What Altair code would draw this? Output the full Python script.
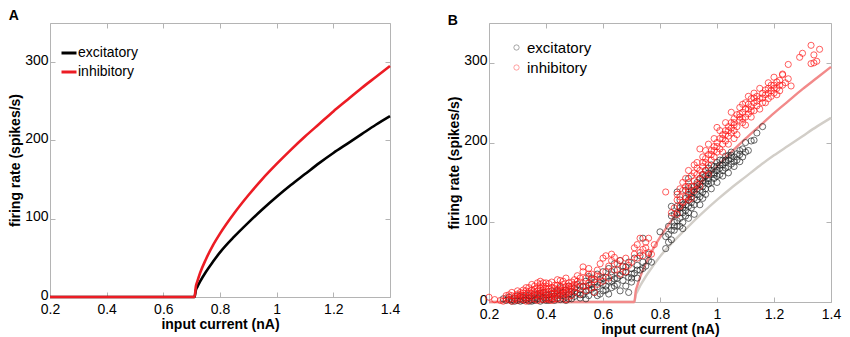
import altair as alt
import pandas as pd

# ---------------- data ----------------
curve_x = [0.2, 0.7, 0.71, 0.715, 0.72, 0.73, 0.75, 0.775, 0.8, 0.85, 0.9, 0.95,
           1.0, 1.05, 1.1, 1.15, 1.2, 1.25, 1.3, 1.35, 1.4]
exc_rate = [0, 0, 0, 9, 13, 20, 32, 45, 57, 77, 95, 112,
            128, 143, 157, 171, 184, 196, 208, 220, 231]
inh_rate = [0, 0, 0, 14, 20, 31, 48, 66, 81, 107, 130, 151,
            170, 188, 205, 221, 237, 252, 267, 281, 295]

exc_points = [
    (0.25, 4), (0.26, 2), (0.27, 6), (0.28, 1), (0.28, 3), (0.29, 5), (0.30, 2), (0.30, 8),
    (0.31, 1), (0.31, 4), (0.32, 6), (0.32, 2), (0.33, 3), (0.33, 9), (0.34, 1), (0.34, 5),
    (0.35, 7), (0.35, 3), (0.36, 2), (0.36, 10), (0.37, 4), (0.37, 6), (0.38, 1), (0.38, 8),
    (0.39, 3), (0.39, 12), (0.40, 5), (0.40, 2), (0.41, 9), (0.41, 6), (0.42, 4), (0.42, 14),
    (0.43, 7), (0.43, 2), (0.44, 10), (0.44, 5), (0.45, 18), (0.45, 3), (0.46, 8), (0.46, 12),
    (0.47, 6), (0.47, 15), (0.48, 4), (0.48, 20), (0.49, 9), (0.49, 13), (0.50, 7), (0.50, 17),
    (0.27, 3), (0.29, 1), (0.31, 7), (0.33, 5), (0.35, 1), (0.37, 9), (0.39, 6), (0.41, 2),
    (0.43, 12), (0.45, 8), (0.47, 2), (0.49, 4), (0.52, 9), (0.54, 4), (0.56, 22), (0.58, 8),
    (0.60, 14), (0.62, 10), (0.64, 20), (0.66, 14), (0.68, 44), (0.70, 30), (0.55, 32), (0.60, 30),
    (0.63, 26),
    (0.34, 8), (0.36, 5), (0.38, 11), (0.40, 9), (0.42, 10), (0.44, 14), (0.46, 4), (0.48, 10),
    (0.50, 12), (0.52, 20), (0.55, 15), (0.57, 18), (0.59, 24), (0.61, 20), (0.63, 38), (0.65, 30),
    (0.67, 38), (0.70, 35), (0.72, 40), (0.74, 42),
    (0.51, 11), (0.51, 22), (0.52, 5), (0.52, 15), (0.53, 19), (0.53, 9), (0.54, 26), (0.54, 13),
    (0.55, 8), (0.55, 21), (0.56, 30), (0.56, 16), (0.57, 12), (0.57, 25), (0.58, 35), (0.58, 19),
    (0.59, 10), (0.59, 28), (0.60, 22), (0.60, 38), (0.61, 15), (0.61, 31), (0.62, 26), (0.62, 42),
    (0.63, 18), (0.63, 34), (0.64, 48), (0.64, 29), (0.65, 22), (0.65, 40), (0.66, 33), (0.66, 52),
    (0.67, 27), (0.67, 45), (0.68, 37), (0.68, 20), (0.69, 50), (0.69, 31), (0.69, 12), (0.70, 42),
    (0.70, 25), (0.71, 55), (0.71, 36), (0.72, 46), (0.72, 30), (0.73, 58), (0.73, 40), (0.74, 80),
    (0.74, 50), (0.75, 45), (0.76, 52), (0.76, 60), (0.77, 50),
    (0.80, 88), (0.82, 67), (0.82, 82), (0.83, 75), (0.83, 95), (0.84, 78), (0.84, 108), (0.84, 120),
    (0.85, 90), (0.85, 100), (0.86, 138), (0.86, 112), (0.86, 95), (0.87, 105), (0.87, 118), (0.87, 128),
    (0.88, 100), (0.88, 112), (0.88, 122), (0.89, 115), (0.89, 130), (0.89, 108), (0.90, 155), (0.90, 120),
    (0.90, 135), (0.90, 112), (0.91, 125), (0.91, 140), (0.91, 118), (0.92, 130), (0.92, 145), (0.92, 122),
    (0.93, 135), (0.93, 150), (0.93, 128), (0.94, 140), (0.94, 132), (0.94, 155), (0.95, 145), (0.95, 138),
    (0.95, 160), (0.96, 150), (0.96, 142), (0.96, 165), (0.97, 155), (0.97, 148), (0.97, 168), (0.98, 160),
    (0.98, 150), (0.98, 172), (0.99, 162), (0.99, 155), (1.00, 165), (1.00, 158), (1.00, 175), (1.01, 168),
    (1.01, 160), (1.02, 172), (1.02, 165), (1.03, 175), (1.03, 168), (1.04, 178), (1.04, 170), (1.05, 180),
    (1.05, 173), (1.06, 182), (1.07, 178), (1.07, 186), (1.08, 185), (1.09, 182), (1.10, 188), (1.10, 200),
    (1.12, 202), (1.13, 203), (1.14, 212), (1.16, 220),
    (0.86, 102), (0.88, 92), (0.89, 140), (0.91, 132), (0.92, 110), (0.93, 142), (0.94, 122), (0.95, 152),
    (0.96, 135), (0.97, 162), (0.98, 142), (0.99, 170), (1.00, 150), (1.01, 178), (1.02, 158), (1.03, 183),
    (1.04, 162), (1.05, 188), (1.06, 170), (1.08, 176), (1.09, 192), (1.11, 190), (0.87, 95), (0.90, 145),
    (0.85, 110), (0.83, 85), (0.95, 130),
    (0.88, 118), (0.90, 128), (0.92, 138), (0.94, 148), (0.96, 158), (0.98, 165), (1.00, 170), (1.02, 178),
    (1.04, 184), (1.06, 176), (1.08, 190), (0.89, 122), (0.91, 136), (0.93, 146), (0.95, 156), (0.97, 152),
    (0.99, 160), (1.01, 172), (1.03, 178), (1.05, 184), (0.87, 112), (0.85, 95), (0.84, 90), (0.86, 120),
    (0.90, 105),
]

inh_points = [
    (0.20, 6), (0.22, 3), (0.24, 2), (0.26, 5), (0.27, 3), (0.28, 8), (0.28, 1), (0.29, 4),
    (0.30, 10), (0.30, 2), (0.31, 6), (0.31, 12), (0.32, 3), (0.32, 8), (0.33, 14), (0.33, 5),
    (0.34, 2), (0.34, 10), (0.35, 7), (0.35, 22), (0.35, 15), (0.36, 4), (0.36, 12), (0.37, 9),
    (0.37, 18), (0.38, 6), (0.38, 14), (0.38, 22), (0.39, 3), (0.39, 11), (0.40, 8), (0.40, 16),
    (0.40, 20), (0.41, 5), (0.41, 13), (0.42, 10), (0.42, 25), (0.43, 7), (0.43, 17), (0.44, 12),
    (0.44, 21), (0.45, 9), (0.45, 27), (0.46, 14), (0.46, 6), (0.47, 19), (0.47, 11), (0.48, 24),
    (0.48, 16), (0.49, 8), (0.49, 20), (0.50, 13), (0.50, 28),
    (0.29, 7), (0.31, 9), (0.33, 1), (0.34, 6), (0.36, 8), (0.37, 2), (0.38, 10), (0.39, 7),
    (0.40, 12), (0.41, 3), (0.42, 6), (0.43, 11), (0.44, 4), (0.45, 15), (0.46, 10), (0.47, 3),
    (0.48, 12), (0.49, 16), (0.36, 16), (0.39, 19), (0.42, 18), (0.44, 16), (0.46, 22), (0.32, 15),
    (0.30, 5), (0.27, 9), (0.25, 1), (0.41, 23), (0.47, 30), (0.53, 44),
    (0.26, 8), (0.28, 12), (0.30, 14), (0.32, 11), (0.33, 18), (0.34, 13), (0.35, 11), (0.36, 20),
    (0.37, 14), (0.37, 24), (0.38, 17), (0.39, 15), (0.39, 24), (0.40, 4), (0.41, 17), (0.42, 14),
    (0.42, 2), (0.43, 21), (0.43, 4), (0.44, 8), (0.45, 20), (0.45, 12), (0.46, 18), (0.46, 26),
    (0.47, 15), (0.48, 20), (0.48, 7), (0.49, 25), (0.50, 18), (0.50, 22), (0.51, 26), (0.52, 30),
    (0.54, 20), (0.55, 35), (0.56, 28), (0.58, 32), (0.44, 28), (0.40, 24), (0.38, 26), (0.34, 18),
    (0.51, 18), (0.51, 33), (0.52, 10), (0.52, 25), (0.53, 38), (0.53, 20), (0.54, 14), (0.54, 30),
    (0.55, 24), (0.55, 42), (0.56, 18), (0.56, 35), (0.57, 28), (0.57, 12), (0.58, 40), (0.58, 22),
    (0.59, 32), (0.59, 48), (0.60, 26), (0.60, 55), (0.61, 38), (0.61, 58), (0.62, 45), (0.62, 30),
    (0.63, 52), (0.63, 60), (0.64, 40), (0.64, 56), (0.65, 48), (0.66, 35), (0.66, 52), (0.67, 44),
    (0.68, 38), (0.68, 55), (0.69, 46), (0.70, 50), (0.71, 60), (0.71, 68), (0.72, 55), (0.72, 72),
    (0.73, 62), (0.73, 80), (0.74, 66), (0.74, 58), (0.75, 75), (0.75, 68), (0.76, 80), (0.76, 62),
    (0.77, 60), (0.78, 72),
    (0.82, 138), (0.84, 112), (0.85, 118), (0.86, 128), (0.86, 110), (0.87, 132), (0.87, 120), (0.88, 140),
    (0.88, 125), (0.89, 145), (0.89, 132), (0.90, 150), (0.90, 138), (0.90, 165), (0.91, 145), (0.91, 158),
    (0.92, 152), (0.92, 140), (0.92, 172), (0.93, 160), (0.93, 148), (0.94, 192), (0.94, 165), (0.94, 155),
    (0.95, 170), (0.95, 160), (0.95, 182), (0.96, 175), (0.96, 165), (0.97, 185), (0.97, 172), (0.98, 190),
    (0.98, 178), (0.99, 195), (0.99, 182), (1.00, 219), (1.00, 200), (1.00, 188), (1.01, 205), (1.01, 192),
    (1.02, 210), (1.02, 198), (1.03, 215), (1.03, 202), (1.04, 220), (1.04, 208), (1.05, 225), (1.05, 212),
    (1.06, 230), (1.06, 215), (1.07, 235), (1.07, 220), (1.08, 244), (1.08, 228), (1.09, 238), (1.09, 225),
    (1.10, 242), (1.10, 232), (1.11, 248), (1.11, 236), (1.12, 245), (1.12, 255), (1.13, 250), (1.13, 240),
    (1.14, 258), (1.14, 246), (1.15, 255), (1.16, 262), (1.16, 250), (1.17, 260), (1.18, 268), (1.18, 255),
    (1.19, 265), (1.20, 272), (1.20, 262), (1.21, 268), (1.22, 278), (1.22, 265), (1.23, 285), (1.23, 272),
    (1.24, 275), (1.25, 280), (1.26, 271), (1.23, 286), (1.25, 298), (1.29, 307), (1.30, 312), (1.33, 322),
    (1.36, 317), (1.33, 299), (1.34, 300), (1.35, 302), (1.34, 310),
    (0.88, 150), (0.90, 128), (0.93, 175), (0.96, 190), (0.97, 160), (0.99, 205), (1.01, 215), (1.02, 188),
    (1.03, 225), (1.04, 198), (1.05, 238), (1.06, 222), (1.07, 210), (1.08, 236), (1.09, 248), (1.10, 222),
    (1.11, 258), (1.12, 232), (1.13, 262), (1.15, 268), (1.17, 250), (1.18, 275), (1.19, 258), (1.20, 282),
    (1.21, 260), (1.15, 242), (1.06, 205), (0.97, 198), (0.94, 145), (0.91, 130),
    (0.86, 135), (0.89, 155), (0.92, 162), (0.95, 175), (0.98, 185), (1.00, 195), (1.02, 205), (1.04, 215),
    (1.06, 225), (1.08, 232), (1.10, 250), (1.12, 240), (1.14, 252), (1.16, 256), (1.18, 262), (1.20, 268),
    (1.22, 272), (1.09, 230), (1.03, 210), (0.99, 190), (0.96, 180), (0.93, 168), (0.90, 142), (0.87, 142),
    (1.05, 218), (1.11, 242), (1.13, 256), (1.17, 266), (1.19, 272), (1.21, 276),
]

cells = ["excitatory", "inhibitory"]
x_ticks = [0.2, 0.4, 0.6, 0.8, 1.0, 1.2, 1.4]
y_ticks = [0, 100, 200, 300]

# ---------------- tables ----------------
curves = pd.DataFrame({
    "x": curve_x * 2,
    "rate": exc_rate + inh_rate,
    "cell": [cells[0]] * len(curve_x) + [cells[1]] * len(curve_x),
})
exc_df = pd.DataFrame(exc_points, columns=["x", "rate"]).assign(group=cells[0])
inh_df = pd.DataFrame(inh_points, columns=["x", "rate"]).assign(group=cells[1])
pts = pd.concat([exc_df, inh_df], ignore_index=True)

FONT = "Liberation Sans"
GREY = "#b4b4b4"
xs = alt.Scale(domain=[0.2, 1.4], nice=False, zero=False)
ys = alt.Scale(domain=[0, 350], nice=False)

x_bottom = alt.Axis(orient="bottom", values=x_ticks, format="~g", offset=-5, tickSize=5,
                    domain=False, labelPadding=5, labelFlush=False,
                    title="input current (nA)", titlePadding=1)
y_left = alt.Axis(orient="left", values=y_ticks, offset=-5, tickSize=5, domain=False,
                  labelPadding=2, labelFlush=False, labelOffset=-2,
                  title="firing rate (spikes/s)", titlePadding=2)
x_top = alt.Axis(orient="top", values=x_ticks, offset=-5, tickSize=5, domain=False,
                 labels=False, title=None)
y_right = alt.Axis(orient="right", values=y_ticks, offset=-5, tickSize=5, domain=False,
                   labels=False, title=None)


def frame_layer(df):
    return alt.Chart(df).mark_line(opacity=0).encode(
        x=alt.X("x:Q", scale=xs, axis=x_top),
        y=alt.Y("rate:Q", scale=ys, axis=y_right),
    )


# ---------------- panel A ----------------
lines_a = alt.Chart(curves).mark_line(strokeWidth=2.6, interpolate="monotone").encode(
    x=alt.X("x:Q", scale=xs, axis=x_bottom),
    y=alt.Y("rate:Q", scale=ys, axis=y_left),
    color=alt.Color("cell:N", scale=alt.Scale(domain=cells, range=["#000000", "#ec1c24"]),
                    legend=alt.Legend(orient="none", legendX=10, legendY=21, title=None,
                                      symbolType="stroke", symbolSize=225, symbolStrokeWidth=3,
                                      labelFontSize=14, labelOffset=0, rowPadding=3,
                                      labelFont=FONT)),
)
panel_a = alt.layer(lines_a, frame_layer(curves)).resolve_axis(
    x="independent", y="independent"
).properties(
    width=340, height=274,
    title=alt.Title("A", anchor="start", frame="bounds", fontSize=14, fontWeight="bold",
                    font=FONT, offset=0, color="#000000"),
)

# ---------------- panel B ----------------
exc_curve = alt.Chart(curves[curves.cell == cells[0]]).mark_line(
    strokeWidth=2.4, color="#d2cec8", interpolate="monotone").encode(
    x=alt.X("x:Q", scale=xs, axis=x_bottom),
    y=alt.Y("rate:Q", scale=ys, axis=y_left),
)
inh_curve = alt.Chart(curves[curves.cell == cells[1]]).mark_line(
    strokeWidth=2.4, color="#f28a8a", interpolate="monotone").encode(
    x=alt.X("x:Q", scale=xs, axis=None), y=alt.Y("rate:Q", scale=ys, axis=None),
)
scatter = alt.Chart(pts).mark_point(shape="circle", filled=False, size=38, strokeWidth=0.8,
                                     opacity=0.85).encode(
    x=alt.X("x:Q", scale=xs, axis=None),
    y=alt.Y("rate:Q", scale=ys, axis=None),
    color=alt.Color("group:N", scale=alt.Scale(domain=cells, range=["#222222", "#ff1414"]),
                    legend=alt.Legend(orient="none", legendX=20, legendY=17, title=None,
                                      symbolType="circle", symbolSize=28, symbolStrokeWidth=0.8,
                                      symbolOpacity=0.5, labelFontSize=15, labelOffset=3,
                                      rowPadding=4, labelFont=FONT)),
)
panel_b = alt.layer(exc_curve, inh_curve, scatter, frame_layer(curves)).resolve_axis(
    x="independent", y="independent"
).properties(
    width=342, height=279,
    title=alt.Title("B", anchor="start", frame="bounds", fontSize=14, fontWeight="bold",
                    font=FONT, offset=-5, color="#000000"),
)

chart = alt.hconcat(panel_a, panel_b, spacing=46).resolve_scale(
    color="independent"
).resolve_legend(color="independent").properties(
    padding={"left": 0, "top": 0, "right": 0, "bottom": 0}
).configure_view(
    stroke=GREY, strokeWidth=1
).configure_axis(
    labelFont=FONT, titleFont=FONT, labelFontSize=14, titleFontSize=14,
    titleFontWeight="bold", labelColor="#000000", titleColor="#000000",
    tickColor=GREY, grid=False,
).configure_legend(
    labelColor="#000000"
)

chart.save("out.html", embed_options={"renderer": "svg", "actions": False})
